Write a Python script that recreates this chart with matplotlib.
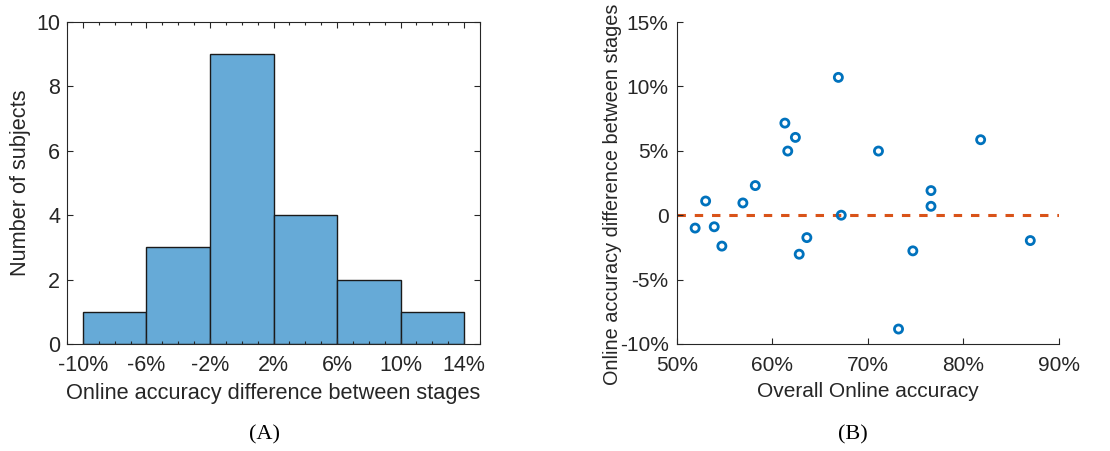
import numpy as np
import matplotlib.pyplot as plt
from matplotlib.ticker import MultipleLocator, FuncFormatter

# overall online accuracy (%) and difference between stages (%) per subject
overall_acc = [51.9, 53.0, 53.9, 54.7, 56.9, 58.2, 61.3, 61.6, 62.4, 62.8,
               63.6, 66.9, 67.2, 71.1, 73.2, 74.7, 76.6, 76.6, 81.8, 87.0]
stage_diff = [-1.0, 1.1, -0.9, -2.4, 0.95, 2.3, 7.15, 4.98, 6.04, -3.03,
              -1.74, 10.7, 0.0, 4.98, -8.84, -2.77, 1.91, 0.69, 5.86, -1.97]
bin_edges = [-10, -6, -2, 2, 6, 10, 14]

plt.rcParams['font.family'] = ['Liberation Sans', 'DejaVu Sans']
ink = '#262626'
blue = '#0072BD'
orange = '#D95319'

fig = plt.figure(figsize=(11.1, 4.51), dpi=100)
ax1 = fig.add_axes([0.0604, 0.2373, 0.372, 0.7139])
ax2 = fig.add_axes([0.6099, 0.2373, 0.3441, 0.7139])

# (A) histogram
ax1.hist(stage_diff, bins=bin_edges, color='#66AAD7', edgecolor='#1a1a1a', linewidth=1.0)
ax1.set_xlim(-11, 15)
ax1.set_ylim(0, 10)
ax1.set_xticks(bin_edges)
ax1.xaxis.set_minor_locator(MultipleLocator(1))
ax1.set_yticks([0, 2, 4, 6, 8, 10])
ax1.xaxis.set_major_formatter(FuncFormatter(lambda v, p: '%d%%' % v))
ax1.tick_params(which='both', direction='in', top=True, right=True, colors=ink,
                labelsize=15.5, width=0.8)
ax1.tick_params(which='major', length=4)
ax1.tick_params(which='minor', length=2)
ax1.tick_params(axis='x', pad=8)
ax1.tick_params(axis='y', pad=5)
ax1.set_xlabel('Online accuracy difference between stages', fontsize=15.7, color=ink, labelpad=5)
ax1.set_ylabel('Number of subjects', fontsize=15.7, color=ink)
ax1.yaxis.set_label_coords(-0.087, 0.5)
for s in ax1.spines.values():
    s.set_color(ink)
    s.set_linewidth(0.8)

# (B) scatter
ax2.axhline(0, color=orange, linestyle=(0, (2.75, 2.9)), linewidth=2.2, zorder=1)
ax2.scatter(overall_acc, stage_diff, s=34, facecolors='none', edgecolors=blue,
            linewidths=2.0, zorder=2)
ax2.set_xlim(50, 90)
ax2.set_ylim(-10, 15)
ax2.set_xticks([50, 60, 70, 80, 90])
ax2.set_yticks([-10, -5, 0, 5, 10, 15])
ax2.xaxis.set_major_formatter(FuncFormatter(lambda v, p: '%d%%' % v))
ax2.yaxis.set_major_formatter(FuncFormatter(lambda v, p: '0' if v == 0 else '%d%%' % v))
ax2.tick_params(direction='in', colors=ink, labelsize=15, length=4, width=0.8)
ax2.tick_params(axis='x', pad=9)
ax2.tick_params(axis='y', pad=6)
ax2.spines['top'].set_visible(False)
ax2.spines['right'].set_visible(False)
for s in ['left', 'bottom']:
    ax2.spines[s].set_color(ink)
    ax2.spines[s].set_linewidth(0.8)
ax2.set_xlabel('Overall Online accuracy', fontsize=15, color=ink, labelpad=5)
ax2.set_ylabel('Online accuracy difference between stages', fontsize=14.3, color=ink)
ax2.yaxis.set_label_coords(-0.144, 0.466)

fig.text(0.2387, 0.025, '(A)', family='Liberation Serif', fontsize=16, ha='center')
fig.text(0.7685, 0.025, '(B)', family='Liberation Serif', fontsize=16, ha='center')

fig.savefig('out.png', dpi=100)
